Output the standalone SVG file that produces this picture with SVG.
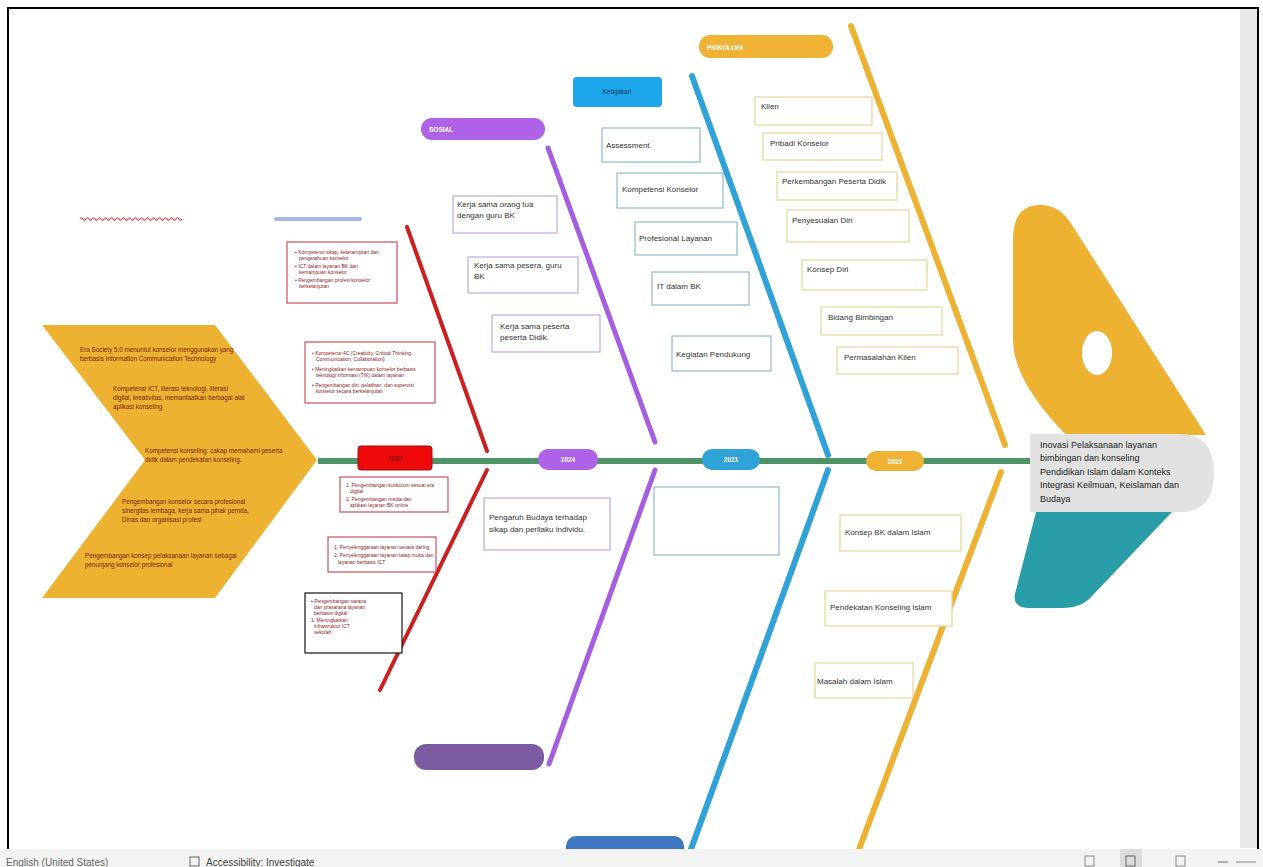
<svg xmlns="http://www.w3.org/2000/svg" width="1263" height="867" viewBox="0 0 1263 867">
<style>
text{font-family:"Liberation Sans",Arial,sans-serif}
.ct{font-size:6.3px;fill:#7a2010}
.bx{fill:#fff;stroke-width:1.2}
.rb{stroke:#c8505a}
.pb{stroke:#c4a6e4}
.tb{stroke:#8db8cc}
.ob{stroke:#e8d49a}
.t8{font-size:8px;fill:#333}
.t5{font-size:5px;fill:#8a1a1a}
.pill{font-size:6.5px;fill:#fff;font-weight:bold}
.bone{fill:none;stroke-linecap:round}
</style>
<rect x="0" y="0" width="1263" height="867" fill="#fff"/>
<rect x="1240" y="9" width="17" height="839" fill="#e8e8e8"/>
<rect x="8" y="8" width="1250" height="842" fill="none" stroke="#000" stroke-width="2"/>

<g id="decorations">
<path d="M80 219 q1.5 -2.5 3 0 t3 0 t3 0 t3 0 t3 0 t3 0 t3 0 t3 0 t3 0 t3 0 t3 0 t3 0 t3 0 t3 0 t3 0 t3 0 t3 0 t3 0 t3 0 t3 0 t3 0 t3 0 t3 0 t3 0 t3 0 t3 0 t3 0 t3 0 t3 0 t3 0 t3 0 t3 0 t3 0 t3 0" fill="none" stroke="#d04050" stroke-width="1.2"/>
<line x1="276" y1="219" x2="360" y2="219" stroke="#aab4e6" stroke-width="4" stroke-linecap="round"/>
</g>

<g id="tail">
<polygon points="42,325 215,325 317,460 215,598 42,598 145,460" fill="#edb232"/>
<text class="ct" x="80" y="352">Era Society 5.0 menuntut konselor menggunakan yang</text>
<text class="ct" x="80" y="361">berbasis Information Communication Technology</text>
<text class="ct" x="113" y="391">Kompetensi ICT, literasi teknologi, literasi</text>
<text class="ct" x="113" y="400">digital, kreativitas, memanfaatkan berbagai alat</text>
<text class="ct" x="113" y="409">aplikasi konseling</text>
<text class="ct" x="145" y="453">Kompetensi konseling: cakap memahami peserta</text>
<text class="ct" x="145" y="462">didik dalam pendekatan konseling.</text>
<text class="ct" x="122" y="504">Pengembangan konselor secara profesional</text>
<text class="ct" x="122" y="513">sinergitas lembaga, kerja sama pihak pemda,</text>
<text class="ct" x="122" y="522">Dinas dan organisasi profesi</text>
<text class="ct" x="85" y="558">Pengembangan konsep pelaksanaan layanan sebagai</text>
<text class="ct" x="85" y="567">penunjang konselor profesional</text>
</g>

<g id="connectors">
<line x1="318" y1="461" x2="1040" y2="461" stroke="#4e9466" stroke-width="6"/>
<line class="bone" x1="407" y1="227" x2="487" y2="451" stroke="#cc1f1f" stroke-width="4"/>
<line class="bone" x1="487" y1="470" x2="380" y2="690" stroke="#cc1f1f" stroke-width="4"/>
<line class="bone" x1="548" y1="148" x2="655" y2="442" stroke="#a65de0" stroke-width="5"/>
<line class="bone" x1="655" y1="470" x2="549" y2="764" stroke="#a65de0" stroke-width="5"/>
<line class="bone" x1="692" y1="76" x2="828" y2="455" stroke="#2fa3d8" stroke-width="6"/>
<line class="bone" x1="828" y1="470" x2="690" y2="852" stroke="#2fa3d8" stroke-width="6"/>
<line class="bone" x1="851" y1="26" x2="1005" y2="445" stroke="#edb232" stroke-width="6"/>
<line class="bone" x1="1001" y1="472" x2="858" y2="852" stroke="#edb232" stroke-width="6"/>
</g>

<g id="head">
<path d="M1013 240 Q1013 205 1040 205 Q1060 205 1072 225 L1206 435 L1066 435 Q1013 380 1013 340 Z" fill="#edb232"/>
<ellipse cx="1097" cy="353" rx="15" ry="22" fill="#fff"/>
<path d="M1036 512 L1172 512 L1092 596 Q1082 608 1062 608 L1030 608 Q1010 608 1016 590 Z" fill="#2a9ea8"/>
<path d="M1030 434 L1180 434 Q1214 434 1214 473 Q1214 512 1180 512 L1030 512 Z" fill="#e2e2e2"/>
<text font-size="9" fill="#222" x="1040" y="448">Inovasi Pelaksanaan layanan</text>
<text font-size="9" fill="#222" x="1040" y="461">bimbingan dan konseling</text>
<text font-size="9" fill="#222" x="1040" y="475">Pendidikan Islam dalam Konteks</text>
<text font-size="9" fill="#222" x="1040" y="488">Integrasi Keilmuan, Keislaman dan</text>
<text font-size="9" fill="#222" x="1040" y="502">Budaya</text>
</g>

<g id="label-sosial">
<rect x="421" y="118" width="124" height="22" rx="11" fill="#ae62e8"/>
<text class="pill" x="429" y="132">SOSIAL</text>
</g>
<g id="label-kebijakan">
<rect x="573" y="77" width="89" height="30" rx="4" fill="#1ea6ea"/>
<text font-size="6.5" fill="#1a3a5a" x="617" y="94" text-anchor="middle">Kebijakan</text>
</g>
<g id="label-psikologi">
<rect x="699" y="35" width="134" height="23" rx="11" fill="#efb234"/>
<text class="pill" x="707" y="50">PSIKOLOGI</text>
</g>
<g id="spine-red">
<rect x="358" y="446" width="74" height="24" rx="3" fill="#ee0a0a" stroke="#a01010" stroke-width="1"/>
<text font-size="6.5" fill="#600" x="395" y="461" text-anchor="middle">2020</text>
</g>
<g id="spine-purple">
<rect x="538" y="449" width="60" height="21" rx="10" fill="#ae62e8"/>
<text class="pill" x="568" y="462" text-anchor="middle">2024</text>
</g>
<g id="spine-blue">
<rect x="702" y="449" width="58" height="21" rx="10" fill="#2fa3d8"/>
<text class="pill" x="731" y="462" text-anchor="middle">2021</text>
</g>
<g id="spine-orange">
<rect x="866" y="451" width="58" height="20" rx="10" fill="#efb234"/>
<text class="pill" x="895" y="464" text-anchor="middle">2023</text>
</g>
<g id="bottom-purple">
<rect x="414" y="744" width="130" height="26" rx="12" fill="#7b5aa0"/>
</g>
<g id="bottom-blue">
<rect x="566" y="836" width="118" height="24" rx="10" fill="#3f78c0"/>
</g>

<g id="red-box-1">
<rect class="bx rb" x="287" y="242" width="110" height="61"/>
<text class="t5" x="295" y="254">• Kompetensi sikap, keterampilan dan</text>
<text class="t5" x="299" y="260">pengetahuan konselor</text>
<text class="t5" x="295" y="268">• ICT dalam layanan BK dan</text>
<text class="t5" x="299" y="274">kemampuan konselor</text>
<text class="t5" x="295" y="282">• Pengembangan profesi konselor</text>
<text class="t5" x="299" y="288">berkelanjutan</text>
</g>
<g id="red-box-2">
<rect class="bx rb" x="305" y="342" width="130" height="61"/>
<text class="t5" x="312" y="355">• Kompetensi 4C (Creativity, Critical Thinking,</text>
<text class="t5" x="316" y="361">Communication, Collaboration)</text>
<text class="t5" x="312" y="371">• Meningkatkan kemampuan konselor berbasis</text>
<text class="t5" x="316" y="377">teknologi informasi (TIK) dalam layanan</text>
<text class="t5" x="312" y="387">• Pengembangan diri, pelatihan, dan supervisi</text>
<text class="t5" x="316" y="393">konselor secara berkelanjutan</text>
</g>
<g id="red-box-3">
<rect class="bx rb" x="340" y="477" width="108" height="35"/>
<text class="t5" x="346" y="487">1. Pengembangan kurikulum sesuai era</text>
<text class="t5" x="350" y="493">digital</text>
<text class="t5" x="346" y="501">2. Pengembangan media dan</text>
<text class="t5" x="350" y="507">aplikasi layanan BK online</text>
</g>
<g id="red-box-4">
<rect class="bx rb" x="328" y="537" width="108" height="35"/>
<text class="t5" x="334" y="549">1. Penyelenggaraan layanan secara daring</text>
<text class="t5" x="334" y="557">2. Penyelenggaraan layanan tatap muka dan</text>
<text class="t5" x="338" y="564">layanan berbasis ICT</text>
</g>
<g id="black-box">
<rect class="bx" stroke="#111" x="305" y="593" width="97" height="60"/>
<text class="t5" x="311" y="603">• Pengembangan sarana</text>
<text class="t5" x="314" y="609">dan prasarana layanan</text>
<text class="t5" x="314" y="615">berbasis digital</text>
<text class="t5" x="311" y="622">1. Meningkatkan</text>
<text class="t5" x="314" y="628">infrastruktur ICT</text>
<text class="t5" x="314" y="634">sekolah</text>
</g>

<g id="purple-box-1">
<rect class="bx pb" x="453" y="196" width="104" height="37"/>
<text class="t8" x="457" y="207">Kerja sama orang tua</text>
<text class="t8" x="457" y="218">dengan guru BK</text>
</g>
<g id="purple-box-2">
<rect class="bx pb" x="468" y="257" width="110" height="36"/>
<text class="t8" x="474" y="268">Kerja sama pesera, guru</text>
<text class="t8" x="474" y="279">BK</text>
</g>
<g id="purple-box-3">
<rect class="bx pb" x="492" y="315" width="108" height="37"/>
<text class="t8" x="500" y="329">Kerja sama peserta</text>
<text class="t8" x="500" y="340">peserta Didik.</text>
</g>
<g id="purple-box-4">
<rect class="bx pb" x="484" y="498" width="126" height="52"/>
<text class="t8" x="489" y="520">Pengaruh Budaya terhadap</text>
<text class="t8" x="489" y="532">sikap dan perilaku individu.</text>
</g>

<g id="blue-box-1">
<rect class="bx tb" x="602" y="128" width="98" height="34"/>
<text class="t8" x="606" y="148">Assessment.</text>
</g>
<g id="blue-box-2">
<rect class="bx tb" x="617" y="173" width="106" height="35"/>
<text class="t8" x="622" y="192">Kompetensi Konselor</text>
</g>
<g id="blue-box-3">
<rect class="bx tb" x="635" y="222" width="102" height="33"/>
<text class="t8" x="639" y="241">Profesional Layanan</text>
</g>
<g id="blue-box-4">
<rect class="bx tb" x="652" y="272" width="97" height="33"/>
<text class="t8" x="657" y="289">IT dalam BK</text>
</g>
<g id="blue-box-5">
<rect class="bx tb" x="672" y="336" width="99" height="35"/>
<text class="t8" x="676" y="357">Kegiatan Pendukung</text>
</g>
<g id="blue-box-6">
<rect class="bx tb" x="654" y="487" width="125" height="68"/>
</g>

<g id="orange-box-1">
<rect class="bx ob" x="755" y="97" width="117" height="28"/>
<text class="t8" x="761" y="109">Klien</text>
</g>
<g id="orange-box-2">
<rect class="bx ob" x="763" y="133" width="119" height="27"/>
<text class="t8" x="770" y="146">Pribadi Konselor</text>
</g>
<g id="orange-box-3">
<rect class="bx ob" x="777" y="172" width="120" height="28"/>
<text class="t8" x="782" y="184">Perkembangan Peserta Didik</text>
</g>
<g id="orange-box-4">
<rect class="bx ob" x="787" y="210" width="122" height="32"/>
<text class="t8" x="792" y="223">Penyesuaian Diri</text>
</g>
<g id="orange-box-5">
<rect class="bx ob" x="802" y="260" width="125" height="30"/>
<text class="t8" x="807" y="272">Konsep Diri</text>
</g>
<g id="orange-box-6">
<rect class="bx ob" x="821" y="307" width="121" height="28"/>
<text class="t8" x="828" y="320">Bidang Bimbingan</text>
</g>
<g id="orange-box-7">
<rect class="bx ob" x="837" y="347" width="121" height="27"/>
<text class="t8" x="844" y="360">Permasalahan Klien</text>
</g>
<g id="orange-box-8">
<rect class="bx ob" x="840" y="515" width="121" height="36"/>
<text class="t8" x="845" y="535">Konsep BK dalam Islam</text>
</g>
<g id="orange-box-9">
<rect class="bx ob" x="825" y="591" width="127" height="35"/>
<text class="t8" x="830" y="610">Pendekatan Konseling Islam</text>
</g>
<g id="orange-box-10">
<rect class="bx ob" x="815" y="663" width="98" height="35"/>
<text class="t8" x="817" y="684">Masalah dalam Islam</text>
</g>

<g id="status-bar">
<rect x="0" y="849" width="1263" height="18" fill="#f3f3f3"/>
<text font-size="10" fill="#666" x="6" y="866">English (United States)</text>
<text font-size="10" fill="#444" x="206" y="866">Accessibility: Investigate</text>
<rect x="190" y="857" width="9" height="9" fill="none" stroke="#666" stroke-width="1"/>
<rect x="1120" y="849" width="22" height="18" fill="#dcdcdc"/>
<rect x="1085" y="856" width="9" height="10" fill="none" stroke="#888" stroke-width="1"/>
<rect x="1126" y="856" width="9" height="10" fill="none" stroke="#666" stroke-width="1"/>
<rect x="1176" y="856" width="9" height="10" fill="none" stroke="#888" stroke-width="1"/>
<line x1="1218" y1="862" x2="1228" y2="862" stroke="#666" stroke-width="1"/>
<line x1="1236" y1="862" x2="1256" y2="862" stroke="#888" stroke-width="1"/>
</g>
</svg>
